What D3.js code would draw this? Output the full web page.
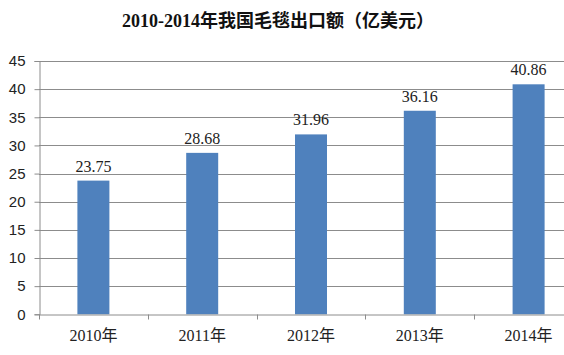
<!DOCTYPE html>
<html>
<head>
<meta charset="utf-8">
<script src="https://cdn.jsdelivr.net/npm/d3@7/dist/d3.min.js"></script>
<style>
body { margin: 0; background: #fff; }
svg { display: block; }
</style>
</head>
<body>
<div id="center"></div>
<script>
const years = ["2010年", "2011年", "2012年", "2013年", "2014年"];
const values = [23.75, 28.68, 31.96, 36.16, 40.86];
const yTicks = [0, 5, 10, 15, 20, 25, 30, 35, 40, 45];
const title = "2010-2014年我国毛毯出口额（亿美元）";

let width = 564, height = 355;
const svg = d3.select("#center").append("svg")
    .attr("width", width)
    .attr("height", height)

const serif = "'Liberation Serif', 'Times New Roman', 'Noto Sans CJK SC', serif";

let x = d3.scaleBand().domain(years).range([39, 583]);
let y = d3.scaleLinear().domain([0, 45]).range([314.3, 61]);

// grid lines
svg.append("g")
    .selectAll("line")
    .data(yTicks.slice(1))
    .enter()
    .append("line")
    .attr("x1", 39)
    .attr("x2", width)
    .attr("y1", d => Math.round(y(d)) + 0.5)
    .attr("y2", d => Math.round(y(d)) + 0.5)
    .attr("stroke", "#8c8c8c")
    .attr("stroke-width", 1);

// bars
svg.selectAll("rect")
    .data(values)
    .enter()
    .append("rect")
    .attr("x", (d, i) => x(years[i]) + x.bandwidth() / 2 - 16)
    .attr("y", d => y(d))
    .attr("width", 32)
    .attr("height", d => y(0) - y(d))
    .attr("fill", "#4f81bd");

// value labels
svg.selectAll(".val")
    .data(values)
    .enter()
    .append("text")
    .attr("class", "val")
    .attr("x", (d, i) => x(years[i]) + x.bandwidth() / 2)
    .attr("y", d => y(d) - 9)
    .attr("text-anchor", "middle")
    .attr("font-family", serif)
    .attr("font-size", 16)
    .attr("fill", "#222")
    .text(d => d.toFixed(2));

// y axis
let axisY = d3.axisLeft(y).tickValues(yTicks).tickSize(5).tickPadding(9);
let gy = svg.append("g")
    .attr("transform", "translate(39.5,0)")
    .call(axisY);
gy.select(".domain").attr("stroke", "#8c8c8c");
gy.selectAll(".tick line").attr("stroke", "#8c8c8c");
gy.selectAll(".tick text")
    .attr("font-family", "'Liberation Sans', Arial, sans-serif")
    .attr("font-size", 15)
    .attr("fill", "#222");

// x axis
let axisX = d3.axisBottom(x).tickSize(0).tickPadding(15);
let gx = svg.append("g")
    .attr("transform", "translate(0," + (Math.round(y(0)) + 0.5) + ")")
    .call(axisX);
gx.select(".domain").attr("stroke", "#8c8c8c");
gx.selectAll(".tick text")
    .attr("font-family", serif)
    .attr("font-size", 16)
    .attr("fill", "#222");
gx.selectAll(".sep")
    .data(years)
    .enter()
    .append("line")
    .attr("class", "sep")
    .attr("x1", d => Math.round(x(d)) + 0.5)
    .attr("x2", d => Math.round(x(d)) + 0.5)
    .attr("y1", 0)
    .attr("y2", 5)
    .attr("stroke", "#8c8c8c");

// title
svg.append("text")
    .attr("x", 278)
    .attr("y", 27)
    .attr("text-anchor", "middle")
    .attr("font-family", serif)
    .attr("font-weight", "bold")
    .attr("font-size", 18)
    .attr("fill", "#111")
    .text(title);
</script>
</body>
</html>
